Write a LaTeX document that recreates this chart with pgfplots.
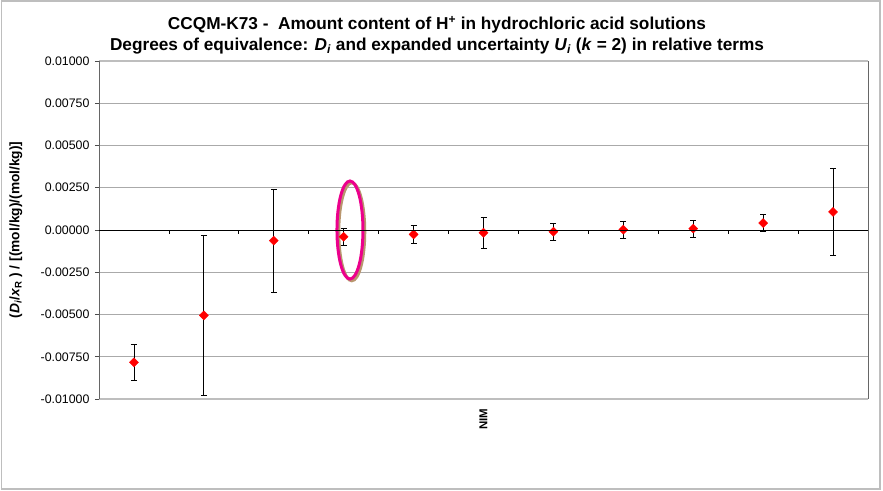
\documentclass[border=0pt]{standalone}
\usepackage{pgfplots}
\pgfplotsset{compat=1.18}
\usepackage{fontspec}
\setmainfont{Liberation Sans}
\definecolor{shadowtan}{RGB}{185,150,110}
\definecolor{gridgray}{RGB}{170,170,170}
\definecolor{framegray}{RGB}{190,190,190}
\begin{document}
\begin{tikzpicture}
\useasboundingbox (0,0) rectangle (883bp,491bp);
% chart area border
\draw[framegray, line width=1.5bp] (1.5bp,2bp) rectangle (880bp,490bp);
% title
\node[anchor=base, font=\fontsize{17.3}{20}\selectfont\bfseries] at (437bp,461bp)
  {CCQM-K73 -\ \ Amount content of H\textsuperscript{+} in hydrochloric acid solutions};
\node[anchor=base, font=\fontsize{17.3}{20}\selectfont\bfseries] at (437bp,440bp)
  {Degrees of equivalence: \textit{D}\textsubscript{\textit{i}} and expanded uncertainty \textit{U}\textsubscript{\textit{i}} (\textit{k} = 2) in relative terms};

\begin{axis}[
  at={(99bp,92bp)}, anchor=south west,
  width=769bp, height=338bp, scale only axis,
  xmin=0.5, xmax=11.5,
  ymin=-0.01, ymax=0.01,
  ytick={-0.01,-0.0075,-0.005,-0.0025,0,0.0025,0.005,0.0075,0.01},
  scaled y ticks=false,
  yticklabel style={/pgf/number format/fixed, /pgf/number format/fixed zerofill,
    /pgf/number format/precision=5, /pgf/number format/assume math mode=true,
    font=\fontsize{12.4}{14}\selectfont, xshift=-2bp},
  ytick pos=left,
  tick align=outside,
  major tick length=4bp,
  ytick style={black!70, line width=0.8bp},
  xtick={6}, xticklabels={NIM},
  major x tick style={draw=none},
  xticklabel style={rotate=90, anchor=east, font=\fontsize{11.5}{13}\selectfont\bfseries, xshift=-2bp},
  ymajorgrids,
  grid style={gridgray, line width=0.8bp},
  separate axis lines,
  x axis line style={framegray, line width=1.5bp},
  y axis line style={black!60, line width=1bp},
  ylabel={(\textit{D}\textsubscript{\textit{i}}/\textit{x}\textsubscript{R} ) / [(mol/kg)/(mol/kg)]},
  ylabel style={font=\fontsize{13.8}{16}\selectfont\bfseries,
    at={(axis description cs:-0.108,0.5)}, anchor=center},
  clip=false,
]
\addplot[only marks, mark=square*, mark size=3.2bp,
  mark options={rotate=45, fill=red, draw=red},
  error bars/.cd, y dir=both, y explicit,
  error bar style={black, line width=0.8bp},
  error mark options={black, rotate=90, mark size=3bp, line width=0.8bp}]
coordinates {
  (1,-0.00783)  +- (0,0.00107)
  (2,-0.00505)  +- (0,0.00474)
  (3,-0.00063)  +- (0,0.00305)
  (4,-0.00040)  +- (0,0.00052)
  (5,-0.00026)  +- (0,0.00052)
  (6,-0.00016)  +- (0,0.00093)
  (7,-0.00010)  +- (0,0.00050)
  (8, 0.00002)  +- (0,0.00049)
  (9, 0.00008)  +- (0,0.00049)
  (10,0.00041)  +- (0,0.00050)
  (11,0.00107)  +- (0,0.00258)
};
\draw[shadowtan, line width=3bp] ([xshift=1.8bp,yshift=-1.8bp]axis cs:4.09,0) ellipse [x radius=13bp, y radius=49bp];
\draw[magenta, line width=3bp] (axis cs:4.09,0) ellipse [x radius=13bp, y radius=49bp];
\end{axis}

% zero line with category separators
\begin{axis}[
  at={(99bp,92bp)}, anchor=south west,
  width=769bp, height=338bp, scale only axis,
  xmin=0.5, xmax=11.5,
  ymin=-0.01, ymax=0.01,
  axis x line=middle, axis y line=none,
  x axis line style={-, black, line width=0.9bp},
  xtick={1.5,2.5,...,10.5}, xticklabels={},
  tick align=outside, major tick length=4bp,
  xtick style={black, line width=0.8bp},
]
\end{axis}
\end{tikzpicture}
\end{document}
